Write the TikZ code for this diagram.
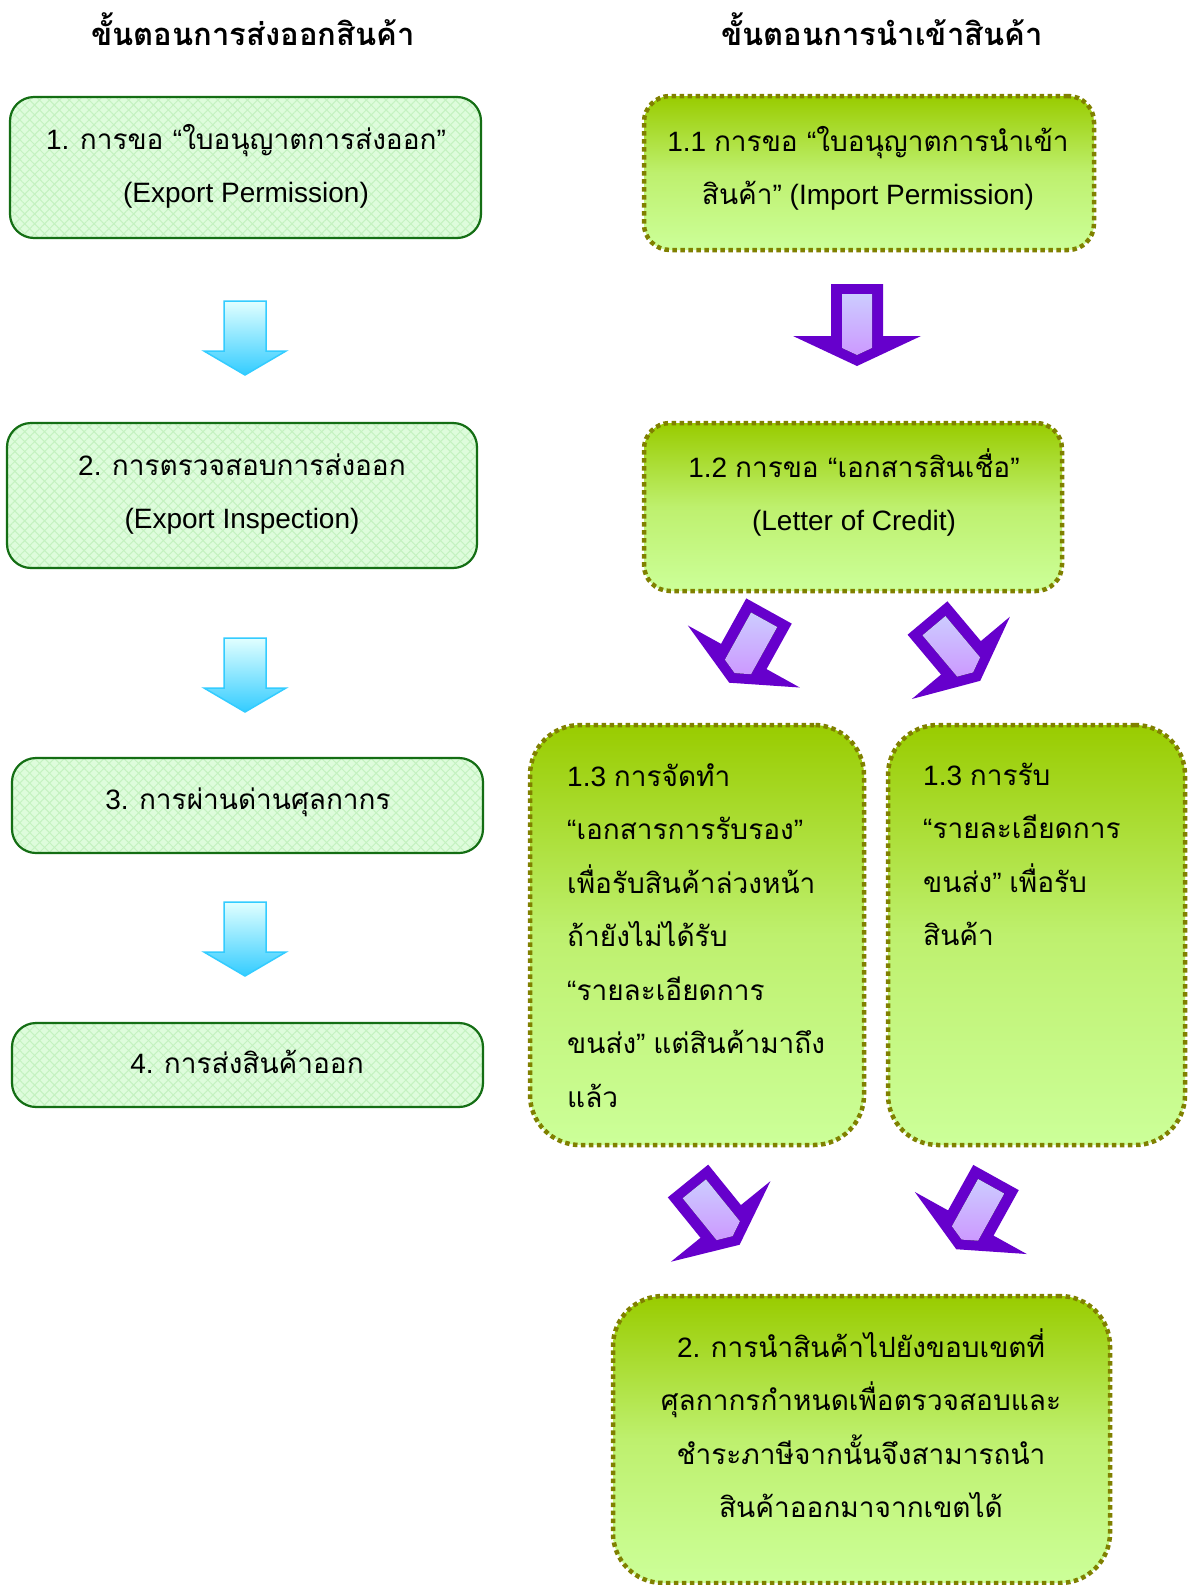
\documentclass[tikz,border=0pt]{standalone}
\usepackage{fontspec}
\setmainfont{Loma}[Script=Thai]
\newfontfamily\lat{Liberation Sans}
\newfontfamily\ttlfont{Loma}[Script=Thai]
\usetikzlibrary{patterns.meta}
\newcommand\LT[1]{{\lat #1}}
\newcommand\FS{\rule{0pt}{30pt}}
\definecolor{lgfill}{RGB}{222,252,220}
\definecolor{lgpat}{RGB}{196,242,192}
\definecolor{lgline}{RGB}{20,110,20}
\definecolor{cyanb}{RGB}{51,204,255}
\definecolor{cyant}{RGB}{225,255,255}
\definecolor{purp}{RGB}{102,0,204}
\definecolor{lavt}{RGB}{204,204,255}
\definecolor{lavb}{RGB}{204,153,255}
\definecolor{gtop}{RGB}{153,204,0}
\definecolor{gmid}{RGB}{190,240,110}
\definecolor{gbot}{RGB}{204,255,153}
\definecolor{olivedot}{RGB}{128,128,0}
\begin{document}
\begin{tikzpicture}[x=1pt,y=-1pt,
  expbox/.style={rectangle, rounded corners=24pt, fill=lgfill, inner sep=0pt,
    postaction={pattern={Lines[angle=45,distance=7pt,line width=1pt]}, pattern color=lgpat},
    postaction={pattern={Lines[angle=-45,distance=7pt,line width=1pt]}, pattern color=lgpat},
    postaction={draw=lgline, line width=2.2pt}},
  impbox/.style={rectangle, rounded corners=26pt, draw=olivedot, line width=4.5pt,
    dash pattern=on 4.5pt off 3.5pt, top color=gtop, bottom color=gbot, middle color=gmid, inner sep=0pt},
  txt/.style={font=\fontsize{28}{53.5}\selectfont, align=center, inner sep=0pt},
  ttl/.style={font=\ttlfont\bfseries\fontsize{31}{38}\selectfont, inner sep=0pt, anchor=base},
  carrow/.pic={\draw[draw=cyanb, line width=1.5pt, top color=cyant, bottom color=cyanb]
      (-21,0) -- (21,0) -- (21,50) -- (41,50) -- (0,74) -- (-41,50) -- (-21,50) -- cycle;},
  parrow/.pic={\fill[purp] (-26,0) -- (26,0) -- (26,52) -- (64,52) -- (0,82) -- (-64,52) -- (-26,52) -- cycle;
      \fill[top color=lavt, bottom color=lavb] (-15,10) -- (15,10) -- (15,64) -- (0,71) -- (-15,64) -- cycle;}
]
\useasboundingbox (0,0) rectangle (1189,1585);
\fill[white] (0,0) rectangle (1189,1585);

% titles
\node[ttl] (t1) at (253,45) {ขั้นตอนการส่งออกสินค้า};
\node[ttl] (t2) at (882,45) {ขั้นตอนการนำเข้าสินค้า};

% export boxes
\node[expbox, minimum width=471pt, minimum height=141pt] (e1) at (245.5,167.5) {};
\node[expbox, minimum width=470pt, minimum height=145pt] (e2) at (242,495.5) {};
\node[expbox, minimum width=471pt, minimum height=95pt] (e3) at (247.5,805.5) {};
\node[expbox, minimum width=471pt, minimum height=84pt] (e4) at (247.5,1065) {};

\node[txt, anchor=north] (e1t) at (246,119) {\FS\LT{1. }การขอ \LT{“}ใบอนุญาตการส่งออก\LT{”}\\\LT{(Export Permission)}};
\node[txt, anchor=north] (e2t) at (242,445) {\FS\LT{2. }การตรวจสอบการส่งออก\\\LT{(Export Inspection)}};
\node[txt, anchor=base] (e3t) at (248,809) {\LT{3. }การผ่านด่านศุลกากร};
\node[txt, anchor=base] (e4t) at (247,1073) {\LT{4. }การส่งสินค้าออก};

% cyan arrows
\pic at (245,301) {carrow};
\pic at (245,638) {carrow};
\pic at (245,902) {carrow};

% import boxes
\node[impbox, minimum width=450pt, minimum height=154pt] (i1) at (869,173) {};
\node[impbox, minimum width=418pt, minimum height=168pt] (i2) at (853,507) {};
\node[impbox, rounded corners=50pt, minimum width=334pt, minimum height=420pt] (i3) at (697,935) {};
\node[impbox, rounded corners=50pt, minimum width=297pt, minimum height=420pt] (i4) at (1036.5,935) {};
\node[impbox, rounded corners=50pt, minimum width=497pt, minimum height=287pt] (i5) at (861.5,1439.5) {};

\node[txt, anchor=north] (i1t) at (868,121) {\FS\LT{1.1 }การขอ \LT{“}ใบอนุญาตการนำเข้า\\สินค้า\LT{” (Import Permission)}};
\node[txt, anchor=north] (i2t) at (854,447) {\FS\LT{1.2 }การขอ \LT{“}เอกสารสินเชื่อ\LT{”}\\\LT{(Letter of Credit)}};
\node[txt, anchor=north west, align=left] (i3t) at (567,756) {\FS\LT{1.3 }การจัดทำ\\\LT{“}เอกสารการรับรอง\LT{”}\\เพื่อรับสินค้าล่วงหน้า\\ถ้ายังไม่ได้รับ\\\LT{“}รายละเอียดการ\\ขนส่ง\LT{” }แต่สินค้ามาถึง\\แล้ว};
\node[txt, anchor=north west, align=left] (i4t) at (923,755) {\FS\LT{1.3 }การรับ\\\LT{“}รายละเอียดการ\\ขนส่ง\LT{” }เพื่อรับ\\สินค้า};
\node[txt, anchor=north] (i5t) at (861,1327) {\FS\LT{2. }การนำสินค้าไปยังขอบเขตที่\\ศุลกากรกำหนดเพื่อตรวจสอบและ\\ชำระภาษีจากนั้นจึงสามารถนำ\\สินค้าออกมาจากเขตได้};

% purple arrows
\pic at (857,284) {parrow};
\pic[rotate=-29] at (769,611) {parrow};
\pic[rotate=40] at (927.5,618) {parrow};
\pic[rotate=39] at (688,1181) {parrow};
\pic[rotate=-29] at (996,1177.5) {parrow};
\end{tikzpicture}
\end{document}
